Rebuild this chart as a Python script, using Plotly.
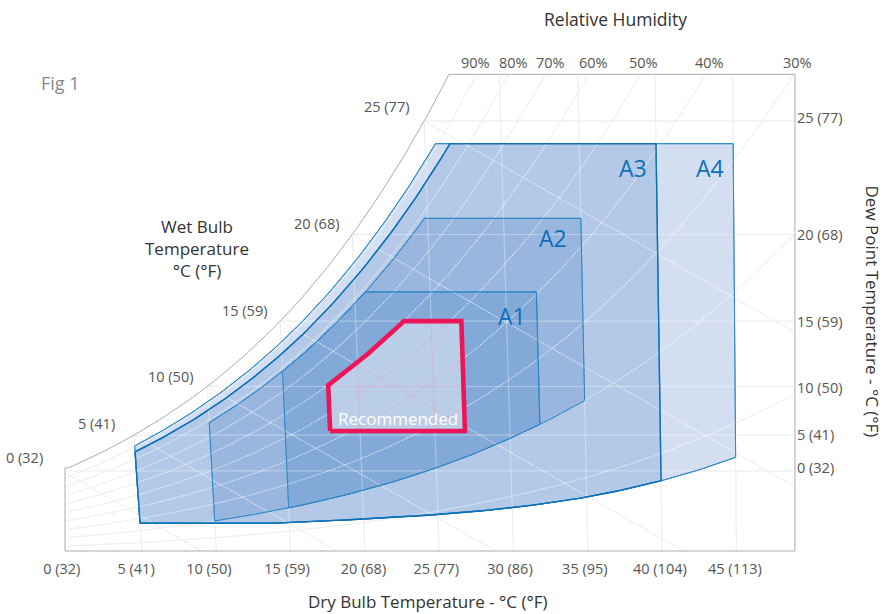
import numpy as np
import plotly.graph_objects as go

# ---- readings / psychrometric table ----
SAT_TEMP = list(range(0, 51))
SAT_KPA = [.611, .657, .706, .758, .813, .872, .935, 1.002, 1.073, 1.148, 1.228, 1.313, 1.403, 1.498, 1.599,
           1.706, 1.818, 1.938, 2.064, 2.198, 2.339, 2.488, 2.645, 2.810, 2.985, 3.169, 3.363, 3.567, 3.782,
           4.008, 4.246, 4.495, 4.758, 5.034, 5.323, 5.627, 5.945, 6.280, 6.630, 6.997, 7.381, 7.784, 8.205,
           8.646, 9.108, 9.590, 10.094, 10.620, 11.171, 11.745, 12.344]

SLANT_TEMP = [0, 5, 10, 15, 20, 25, 30, 35, 40, 45, 50]
SLANT = [.08, .07, .055, .045, .04, .035, .03, .021, .015, .008, 0]

DRY_BULB = [0, 5, 10, 15, 20, 25, 30, 35, 40, 45]
DEW_POINT = [0, 5, 10, 15, 20, 25]
WET_BULB = [0, 5, 10, 15, 20, 25]
RH_LINES = [10, 20, 30, 40, 50, 60, 70, 80, 90]

DRY_LABELS = ["0 (32)", "5 (41)", "10 (50)", "15 (59)", "20 (68)", "25 (77)", "30 (86)", "35 (95)", "40 (104)", "45 (113)"]
DEW_LABELS = ["0 (32)", "5 (41)", "10 (50)", "15 (59)", "20 (68)", "25 (77)"]
WET_LABELS = ["0 (32)", "5 (41)", "10 (50)", "15 (59)", "20 (68)", "25 (77)"]
RH_LABELS = ["90%", "80%", "70%", "60%", "50%", "40%", "30%"]

# envelope classes
CLASS_NAMES = ["A4", "A3", "A2", "A1"]
CLASS_T_LOW = [5, 5, 10, 15]
CLASS_T_HIGH = [45, 40, 35, 32]
CLASS_RH_LOW = [0, 0, 20, 20]
CLASS_RH_HIGH = [91, 86, 78.5, 78.5]
CLASS_DP_HIGH = [24.1, 24.1, 20.8, 16.85]
CLASS_FILL = ["#D3DFF0", "#B3C9E7", "#99B6DE", "#82A9D8"]
CLASS_LINE = ["#2E8AC9", "#0A70B8", "#2E86C6", "#2E86C6"]
CLASS_WIDTH = [1, 1.3, 1, 1]

# lower edge of A3 / A4 (dry bulb, vapour pressure kPa)
LOWER_T = [15, 20, 25, 30, 35, 40, 45]
LOWER_E = [.232, .257, .289, .349, .4225, .532, .713]
LOWER_FLOOR = .23

REC_T = [18, 27]
REC_DP = [5.5, 15]
REC_RH_HIGH = 60

# ---- chart geometry ----
PX_PER_C, PX_X0 = 14.86, 67.7
PX_PER_KPA, PX_Y0 = 136.8, 554.5
BOX_L, BOX_R, BOX_B, BOX_T = -0.18, 48.94, 0.0256, 3.51
PLOT_L, PLOT_R, PLOT_TOP, PLOT_BOT = 60, 796, 72, 553
W, H = 885, 614


def es(t):
    return np.exp(np.interp(t, SAT_TEMP, np.log(SAT_KPA)))


def t_of_e(e):
    return np.interp(np.log(e), np.log(SAT_KPA), SAT_TEMP)


def to_x(t, e):
    k = np.interp(t, SLANT_TEMP, SLANT)
    return np.asarray(t) - k * (np.asarray(e) - BOX_B) * PX_PER_KPA / PX_PER_C


def px_x(p):
    return (p - PX_X0) / PX_PER_C


def px_y(p):
    return (PX_Y0 - p) / PX_PER_KPA


def inside(xs, ys, poly):
    px, py = np.asarray(poly[0]), np.asarray(poly[1])
    res = np.zeros(len(xs), bool)
    for i in range(len(px)):
        j = (i + 1) % len(px)
        denom = py[j] - py[i]
        if denom == 0:
            continue
        cross = ((py[i] > ys) != (py[j] > ys)) & (xs < (px[j] - px[i]) * (ys - py[i]) / denom + px[i])
        res ^= cross
    return res


def clip(xs, ys, poly):
    xs, ys = np.asarray(xs, float), np.asarray(ys, float)
    m = inside(xs, ys, poly)
    return np.where(m, xs, np.nan), np.where(m, ys, np.nan)


# chart outline
t_top = float(t_of_e(BOX_T))
sat_t = np.append(np.arange(0, t_top, 0.25), t_top)
sat_e = es(sat_t)
sat_x = to_x(sat_t, sat_e)
keep = sat_x >= BOX_L
sat_x, sat_e = sat_x[keep], sat_e[keep]
outline_x = np.concatenate([[BOX_L], sat_x, [BOX_R, BOX_R, BOX_L, BOX_L]])
outline_y = np.concatenate([[sat_e[0]], sat_e, [BOX_T, BOX_B, BOX_B, sat_e[0]]])
OUTLINE = (outline_x, outline_y)

# grid lines
grid = {"iso": [], "dew": [], "rh": [], "wb": []}
for t in DRY_BULB[1:]:
    e = np.linspace(BOX_B, BOX_T, 300)
    grid["iso"].append(clip(to_x(np.full_like(e, t), e), e, OUTLINE))
for d in DEW_POINT:
    e0 = float(es(d))
    x = np.linspace(float(to_x(d, e0)), BOX_R, 500)
    grid["dew"].append(clip(x, np.full_like(x, e0), OUTLINE))
for r in RH_LINES:
    t = np.linspace(0, 50, 600)
    e = es(t) * r / 100
    grid["rh"].append(clip(to_x(t, e), e, OUTLINE))
WB_SLOPE = 0.57 * PX_PER_C / PX_PER_KPA
for w in WET_BULB:
    e0 = float(es(w))
    x0 = float(to_x(w, e0))
    x = np.linspace(x0 + 0.02, BOX_R, 600)
    grid["wb"].append(clip(x, e0 - WB_SLOPE * (x - x0), OUTLINE))

fig = go.Figure()


def add_line(x, y, color, width=1, dash="solid"):
    fig.add_trace(go.Scatter(x=x, y=y, mode="lines", line=dict(color=color, width=width, dash=dash),
                             hoverinfo="skip", showlegend=False, connectgaps=False))


# gray grid
for key in grid:
    for x, y in grid[key]:
        add_line(x, y, "#E4E4E4", 1)

LOWER_FIT = np.polyfit(LOWER_T, LOWER_E, 3)


def region(t_lo, t_hi, rh_lo, rh_hi, dp_hi):
    e_top = float(es(dp_hi))
    t_corner = float(t_of_e(e_top / (rh_hi / 100)))
    t_up = np.append(np.arange(t_lo, t_corner, 0.25), t_corner)
    e_up = es(t_up) * rh_hi / 100
    t_low = np.arange(t_hi, t_lo - 0.01, -0.25)
    if rh_lo:
        e_low = es(t_low) * rh_lo / 100
    else:
        e_low = np.where(t_low < LOWER_T[0], LOWER_FLOOR, np.polyval(LOWER_FIT, t_low))
    t_all = np.concatenate([t_up, [t_hi], t_low, [t_lo]])
    e_all = np.concatenate([e_up, [e_top], e_low, [e_up[0]]])
    return to_x(t_all, e_all), e_all


regions = [region(CLASS_T_LOW[i], CLASS_T_HIGH[i], CLASS_RH_LOW[i], CLASS_RH_HIGH[i], CLASS_DP_HIGH[i])
           for i in range(len(CLASS_NAMES))]
for i, name in enumerate(CLASS_NAMES):
    x, y = regions[i]
    fig.add_trace(go.Scatter(x=x, y=y, mode="lines", fill="toself", fillcolor=CLASS_FILL[i], name=name,
                             line=dict(color=CLASS_LINE[i], width=CLASS_WIDTH[i]),
                             hoverinfo="skip", showlegend=False))

# light grid over the envelopes (white, so invisible on the page background)
for x, y in grid["iso"] + grid["dew"]:
    add_line(x, y, "rgba(255,255,255,0.33)", 1.2)
for x, y in grid["rh"] + grid["wb"]:
    add_line(x, y, "rgba(255,255,255,0.6)", 1.1, "2px,1px")

# envelope edges stay above the light grid
for i in range(len(CLASS_NAMES)):
    add_line(regions[i][0], regions[i][1], CLASS_LINE[i], CLASS_WIDTH[i])

# chart outline
add_line(outline_x, outline_y, "#ABABAB", 1)

# recommended zone
e_low, e_high = float(es(REC_DP[0])), float(es(REC_DP[1]))
t_a = REC_T[0]
t_b = float(t_of_e(e_high / (REC_RH_HIGH / 100)))
t_curve = np.append(np.arange(t_a, t_b, 0.25), t_b)
e_curve = es(t_curve) * REC_RH_HIGH / 100
rec_t = np.concatenate([[REC_T[0]], t_curve, [REC_T[1], REC_T[1], REC_T[0]]])
rec_e = np.concatenate([[e_low], e_curve, [e_high, e_low, e_low]])
rec_x = to_x(rec_t, rec_e)
fig.add_trace(go.Scatter(x=rec_x, y=rec_e, mode="lines", fill="toself", fillcolor="#BACEE8", line=dict(width=0),
                         hoverinfo="skip", showlegend=False, name="Recommended"))
for key in grid:
    for x, y in grid[key]:
        cx, cy = clip(x[np.isfinite(x)], y[np.isfinite(y)], (rec_x, rec_e))
        add_line(cx, cy, "rgba(238,150,175,0.38)", 1)
add_line(rec_x, rec_e, "#ED1558", 4.6)

FONT = "Open Sans"
TICK = dict(family=FONT, size=14.5, color="#555555")


def note(px, py, text, size=14.5, color="#555555", xanchor="center", angle=0):
    fig.add_annotation(x=px / W, y=1 - py / H, xref="paper", yref="paper", text=text, showarrow=False, xanchor=xanchor,
                       yanchor="middle", textangle=angle, font=dict(family=FONT, size=size, color=color))


for lab, px, py in zip(WET_LABELS, [45, 117, 195, 269, 341, 411], [457, 423, 376, 310, 224, 107]):
    note(px, py, lab, xanchor="right")
for lab, px in zip(RH_LABELS, [475, 513, 550, 593, 643, 709, 797]):
    note(px, 62, lab)
for lab, px, py in zip(CLASS_NAMES, [710, 633, 553, 512], [168, 168, 238, 316]):
    note(px, py, lab, size=23, color="#0D6FB8")
note(398, 418, "Recommended", size=17, color="#FFFFFF")
note(39, 83, "Fig 1", size=18, color="#888888", xanchor="left")
note(197, 249, "Wet Bulb<br>Temperature<br>°C (°F)", size=17, color="#333333")
note(615, 19, "Relative Humidity", size=17.5, color="#333333")
note(427.5, 601, "Dry Bulb Temperature - °C (°F)", size=17, color="#333333")
note(872.5, 311, "Dew Point Temperature - °C (°F)", size=17, color="#333333", angle=90)

fig.update_layout(
    width=W, height=H, autosize=False, paper_bgcolor="white", plot_bgcolor="white",
    margin=dict(l=0, r=0, t=0, b=0, pad=0), showlegend=False,
    xaxis=dict(domain=[PLOT_L / W, PLOT_R / W], range=[px_x(PLOT_L), px_x(PLOT_R)], showgrid=False, zeroline=False,
               showline=False, anchor="y", automargin=False,
               tickmode="array", tickvals=[-0.4, 4.6, 9.5, 14.76, 19.9, 24.8, 29.76, 34.8, 39.85, 44.9],
               ticktext=DRY_LABELS, ticks="outside", ticklen=3, tickcolor="rgba(0,0,0,0)", tickfont=TICK),
    yaxis=dict(domain=[1 - PLOT_BOT / H, 1 - PLOT_TOP / H], range=[px_y(PLOT_BOT), px_y(PLOT_TOP)], showgrid=False,
               zeroline=False, showline=False, side="right", anchor="x", automargin=False,
               tickmode="array", tickvals=[px_y(p) for p in [468, 435, 388, 322, 235, 118]], ticktext=DEW_LABELS,
               ticks="", tickfont=TICK),
)
fig.write_html("out.html", config={"displayModeBar": False}, post_script="document.body.style.margin='0';")
